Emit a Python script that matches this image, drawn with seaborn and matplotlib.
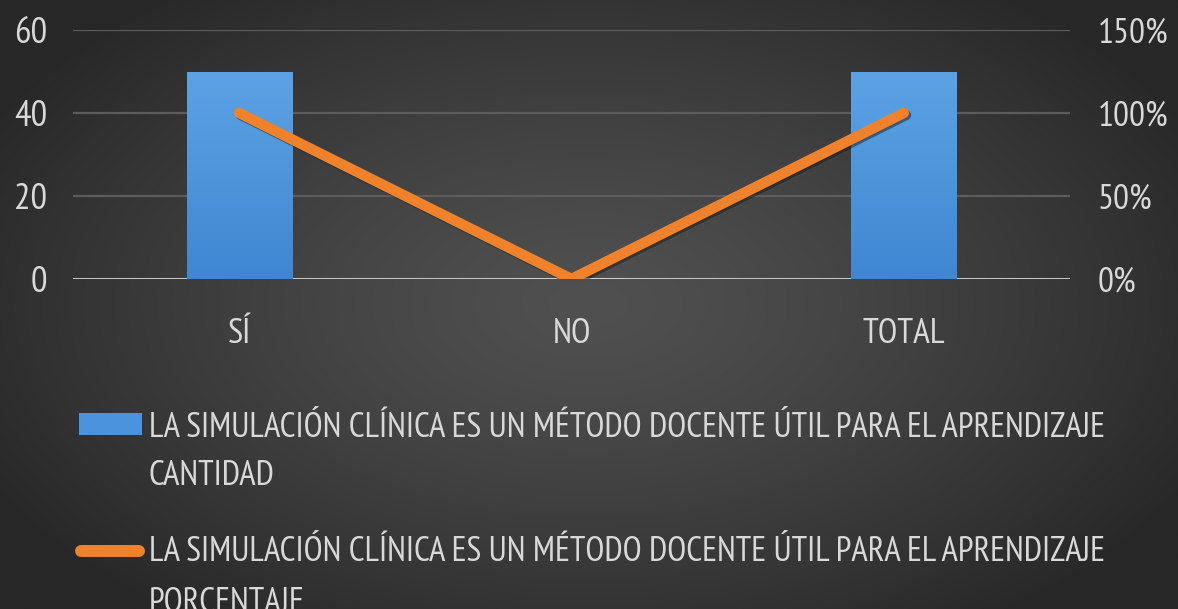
import numpy as np
import pandas as pd
import matplotlib
matplotlib.use("Agg")
import matplotlib.pyplot as plt
import matplotlib.patheffects as pe
from matplotlib.patches import Rectangle
from matplotlib.lines import Line2D
from matplotlib.ticker import PercentFormatter
import seaborn as sns

# ---- data ----
categories = ["SÍ", "NO", "TOTAL"]
cantidad = [50, 0, 50]
porcentaje = [1.0, 0.0, 1.0]
left_ticks = [0, 20, 40, 60]
right_ticks = [0.0, 0.5, 1.0, 1.5]
label_bar = ["LA SIMULACIÓN CLÍNICA ES UN MÉTODO DOCENTE ÚTIL PARA EL APRENDIZAJE", "CANTIDAD"]
label_line = ["LA SIMULACIÓN CLÍNICA ES UN MÉTODO DOCENTE ÚTIL PARA EL APRENDIZAJE", "PORCENTAJE"]

BLUE = "#4b93dc"
ORANGE = "#f0822c"
TXT = "#d9d9d9"
FONT = ["PT Sans Narrow", "DejaVu Sans"]

sns.set_theme(style="dark")
plt.rcParams["font.family"] = FONT
plt.rcParams["axes.unicode_minus"] = False

W, H = 1178, 609
fig = plt.figure(figsize=(W / 100, H / 100), dpi=100)

# ---- background radial gradient ----
bg = fig.add_axes([0, 0, 1, 1], zorder=-10)
yy, xx = np.mgrid[0:1:400j, 0:1:700j]
r = np.sqrt(((xx - 0.5) / 0.58) ** 2 + ((yy - 0.5) / 0.65) ** 2)
r = np.clip(r, 0, 1) ** 1.3
c0, c1 = 0x50 / 255, 0x28 / 255
val = c0 + (c1 - c0) * r
img = np.dstack([val, val, val])
bg.imshow(img, extent=[0, 1, 0, 1], aspect="auto", origin="upper")
bg.set_axis_off()

# ---- main axes ----
ax = fig.add_axes([73 / W, 1 - 279 / H, 997 / W, 249 / H])
ax.set_facecolor("none")
df = pd.DataFrame({"cat": categories, "cantidad": cantidad, "porcentaje": porcentaje})
sns.barplot(data=df, x="cat", y="cantidad", ax=ax, color=BLUE, width=0.316,
            saturation=1, zorder=3)

# gradient fill for bars
grad = np.linspace(0, 1, 100).reshape(-1, 1)
top_c = np.array([0x5d, 0xa2, 0xe4]) / 255
bot_c = np.array([0x3f, 0x87, 0xd2]) / 255
gimg = top_c[None, None, :] * (1 - grad[..., None]) + bot_c[None, None, :] * grad[..., None]
for p in ax.patches:
    x0, y0 = p.get_x(), p.get_y()
    w, h = p.get_width(), p.get_height()
    if h <= 0:
        continue
    p.set_facecolor("none")
    p.set_edgecolor("none")
    im = ax.imshow(gimg, extent=[x0, x0 + w, y0, y0 + h], aspect="auto",
                   origin="upper", zorder=3)
    im.set_clip_path(p)

ax.set_ylim(0, 60)
ax.set_yticks(left_ticks)
ax.set_xlim(-0.5, 2.5)
ax.set_xlabel("")
ax.set_ylabel("")
ax.grid(False)
for yv in left_ticks[1:]:
    ax.axhline(yv, color="#5c5c5c", lw=1.6, zorder=1)
ax.axhline(0, color="#c4c4c4", lw=2.2, zorder=2)
for s in ax.spines.values():
    s.set_visible(False)
ax.tick_params(axis="y", length=0, pad=18.5, labelsize=26.5, labelcolor=TXT)
ax.tick_params(axis="x", length=0, pad=28, labelsize=25.5, labelcolor=TXT)

# ---- secondary axis: percentage line ----
ax2 = ax.twinx()
ax2.set_facecolor("none")
sns.pointplot(data=df, x="cat", y="porcentaje", ax=ax2, color=ORANGE,
              markers="", linestyles="-", linewidth=7.5)
for ln in ax2.lines:
    ln.set_solid_capstyle("round")
    ln.set_solid_joinstyle("miter")
    ln.set_zorder(5)
    ln.set_path_effects([pe.SimpleLineShadow(offset=(1.5, -1.5), shadow_color="#1a1a1a", alpha=0.5),
                         pe.Normal()])
ax2.set_ylim(0, 1.5)
ax2.set_yticks(right_ticks)
ax2.yaxis.set_major_formatter(PercentFormatter(1.0, decimals=0))
ax2.set_xlim(-0.5, 2.5)
ax2.set_ylabel("")
ax2.set_xlabel("")
ax2.grid(False)
for s in ax2.spines.values():
    s.set_visible(False)
ax2.tick_params(axis="y", length=0, pad=20, labelsize=25.5, labelcolor=TXT)
ax.set_zorder(1)
ax2.set_zorder(2)

# ---- legend (manual, bottom) ----
def fx(px):
    return px / W

def fy(py):
    return 1 - py / H

fig.patches.append(Rectangle((fx(79), fy(435)), fx(142) - fx(79), fy(413) - fy(435),
                             transform=fig.transFigure, facecolor=BLUE, edgecolor="none"))
fig.lines.append(Line2D([fx(81), fx(139)], [fy(551), fy(551)], transform=fig.transFigure,
                        color=ORANGE, lw=8.6, solid_capstyle="round"))
fs = 24.9
fig.text(fx(149), fy(437), label_bar[0], color=TXT, fontsize=fs, va="baseline", ha="left")
fig.text(fx(149), fy(485), label_bar[1], color=TXT, fontsize=fs, va="baseline", ha="left")
fig.text(fx(149), fy(561), label_line[0], color=TXT, fontsize=fs, va="baseline", ha="left")
fig.text(fx(149), fy(612), label_line[1], color=TXT, fontsize=fs, va="baseline", ha="left")

fig.savefig("out.png", dpi=100)
